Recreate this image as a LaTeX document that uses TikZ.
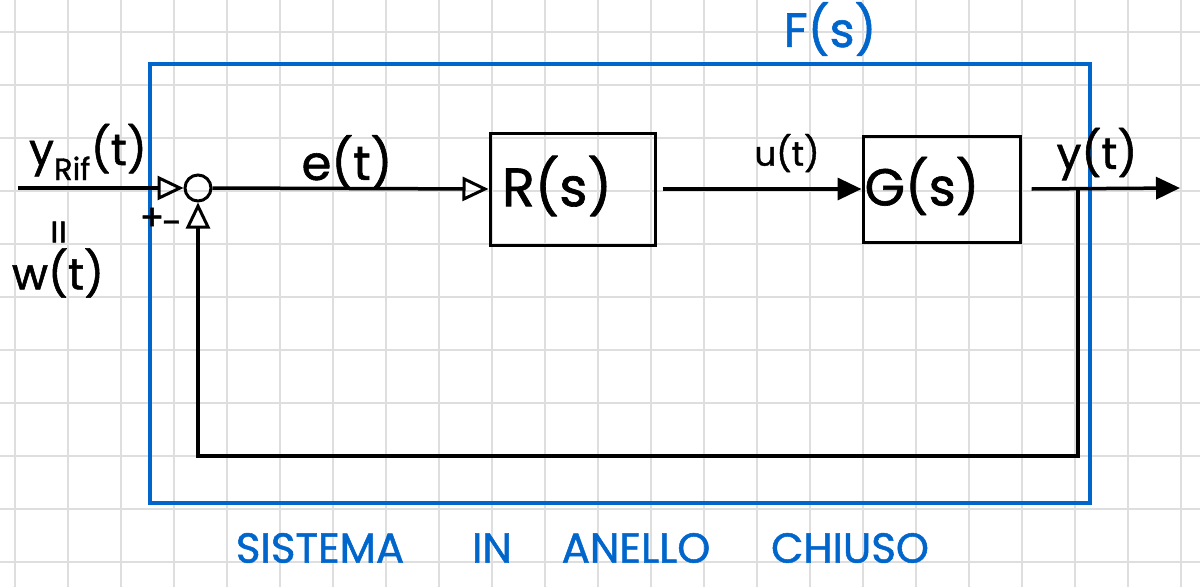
\documentclass[tikz,border=0pt]{standalone}
\usepackage{fontspec}
\setmainfont{Poppins}
\usetikzlibrary{arrows.meta}
\definecolor{penblue}{RGB}{0,102,204}
\definecolor{gridgray}{RGB}{222,222,222}
\newcommand{\fsz}[1]{\fontsize{#1}{#1}\selectfont\addfontfeature{FakeBold=1.2}}
\begin{document}
\begin{tikzpicture}[x=1pt,y=-1pt,
  wire/.style={line width=3.5pt,black},
  blk/.style={draw,line width=3pt,inner sep=0pt},
  hand/.style={inner sep=0pt,black},
  bluetxt/.style={inner sep=0pt,text=penblue},
  opentip/.style={-{Triangle[open,length=26pt,width=24pt,line width=3pt]}},
  filltip/.style={-{Triangle[length=24pt,width=22pt]}}]
\useasboundingbox (0,0) rectangle (1200,587);
\fill[white] (0,0) rectangle (1200,587);
% grid paper
\foreach \gx in {15,68,...,1190} \draw[gridgray,line width=1.6pt] (\gx,0) -- (\gx,587);
\foreach \gy in {32,85,...,580} \draw[gridgray,line width=1.6pt] (0,\gy) -- (1200,\gy);
% blue frame F(s)
\node[draw=penblue,line width=4pt,minimum width=940pt,minimum height=439pt,inner sep=0pt] (frame) at (620,283.5) {};
\node[bluetxt,font=\fsz{48}] (flab) at (830,29) {F(s)};
\node[bluetxt,font=\fsz{42}] (w1) at (320,548) {SISTEMA};
\node[bluetxt,font=\fsz{42}] (w2) at (492,548) {IN};
\node[bluetxt,font=\fsz{42}] (w3) at (636,548) {ANELLO};
\node[bluetxt,font=\fsz{42}] (w4) at (850,548) {CHIUSO};
% blocks
\node[draw,circle,line width=3pt,minimum size=26pt,inner sep=0pt] (sum) at (198,188) {};
\node[blk,minimum width=165pt,minimum height=112pt] (R) at (572.5,189) {};
\node[hand,font=\fsz{54}] (Rt) at (557,186) {R(s)};
\node[blk,minimum width=157pt,minimum height=106pt] (G) at (941.5,189) {};
\node[hand,font=\fsz{52}] (Gt) at (922,186) {G(s)};
% points
\coordinate (in) at (18,188);
\coordinate (tap) at (1078,188);
\coordinate (out) at (1180,188);
\coordinate (fbr) at (1078,456);
% connectors
\draw[wire,opentip] (in) -- (sum.west);
\draw[wire,opentip] (sum.east) -- (R.west);
\draw[wire,filltip] ([xshift=6pt]R.east) -- (G.west);
\draw[wire,filltip] ([xshift=10pt]G.east) -- (out);
\draw[wire,opentip] (tap) -- (fbr) -| (sum.south);
% labels
\node[hand,font=\fsz{44}] (yref) at (88,152) {y\textsubscript{Rif}(t)};
\node[hand,font=\fsz{40},rotate=90] (eq) at (63,232) {=};
\node[hand,font=\fsz{44}] (wl) at (58,273) {w(t)};
\node[hand,font=\fsz{36}] (plus) at (152,219) {+};
\node[hand,font=\fsz{36}] (minus) at (172,228) {-};
\node[hand,font=\fsz{48}] (el) at (347,162) {e(t)};
\node[hand,font=\fsz{34}] (ul) at (787,153) {u(t)};
\node[hand,font=\fsz{44}] (yl) at (1097,154) {y(t)};
\end{tikzpicture}
\end{document}
